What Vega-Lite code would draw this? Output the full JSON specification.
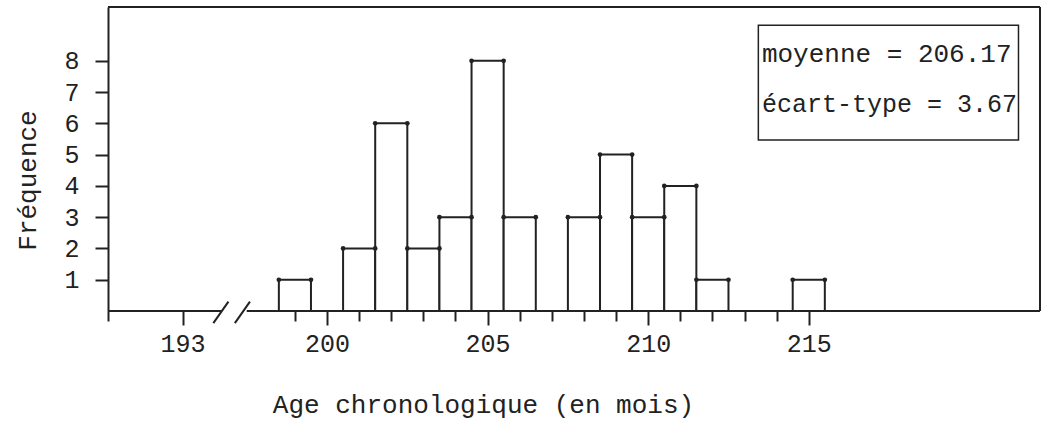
{
  "$schema": "https://vega.github.io/schema/vega-lite/v6.json",
  "autosize": "none",
  "padding": {"left": 108, "top": 7, "right": 4, "bottom": 114},
  "width": 932,
  "height": 304,
  "background": "white",
  "config": {
    "font": "Liberation Mono",
    "view": {"stroke": null}
  },
  "resolve": {"axis": {"x": "independent", "y": "independent"}},
  "data": {
    "values": [
      {"age": 199, "lo": 198.5, "hi": 199.5, "freq": 1},
      {"age": 201, "lo": 200.5, "hi": 201.5, "freq": 2},
      {"age": 202, "lo": 201.5, "hi": 202.5, "freq": 6},
      {"age": 203, "lo": 202.5, "hi": 203.5, "freq": 2},
      {"age": 204, "lo": 203.5, "hi": 204.5, "freq": 3},
      {"age": 205, "lo": 204.5, "hi": 205.5, "freq": 8},
      {"age": 206, "lo": 205.5, "hi": 206.5, "freq": 3},
      {"age": 208, "lo": 207.5, "hi": 208.5, "freq": 3},
      {"age": 209, "lo": 208.5, "hi": 209.5, "freq": 5},
      {"age": 210, "lo": 209.5, "hi": 210.5, "freq": 3},
      {"age": 211, "lo": 210.5, "hi": 211.5, "freq": 4},
      {"age": 212, "lo": 211.5, "hi": 212.5, "freq": 1},
      {"age": 215, "lo": 214.5, "hi": 215.5, "freq": 1}
    ]
  },
  "layer": [
    {
      "mark": {"type": "rect", "fill": "white", "stroke": "#222", "strokeWidth": 2},
      "encoding": {
        "x": {
          "field": "lo", "type": "quantitative",
          "scale": {"domain": [193.18, 222.2], "nice": false, "zero": false},
          "axis": {
            "values": [193.18, 195.5, 199, 200, 201, 202, 203, 204, 205, 206, 207, 208, 209, 210, 211, 212, 213, 214, 215],
            "labelExpr": "datum.value == 195.5 ? '193' : (datum.value % 5 == 0 ? datum.label : '')",
            "domain": false, "grid": false,
            "tickColor": "#222", "tickWidth": 2,
            "tickSize": {"condition": {"test": "datum.value % 5 == 0 || datum.value == 195.5", "value": 14}, "value": 10},
            "labelFontSize": 25, "labelColor": "#222", "labelPadding": 6,
            "labelOverlap": false, "labelFlush": false,
            "title": "Age chronologique (en mois)",
            "titleFontSize": 26, "titleFontWeight": "normal", "titleColor": "#222",
            "titleX": 375, "titleY": 101, "titleAlign": "center", "titleBaseline": "alphabetic"
          }
        },
        "x2": {"field": "hi"},
        "y": {
          "field": "freq", "type": "quantitative",
          "scale": {"domain": [0, 9.72], "nice": false},
          "axis": {
            "values": [1, 2, 3, 4, 5, 6, 7, 8],
            "domain": true, "domainColor": "#222", "domainWidth": 2,
            "grid": false, "tickColor": "#222", "tickWidth": 2, "tickSize": 13,
            "labelFontSize": 25, "labelColor": "#222", "labelPadding": 16,
            "title": "Fréquence",
            "titleFontSize": 26, "titleFontWeight": "normal", "titleColor": "#222",
            "titleX": -81, "titleY": 173, "titleAngle": -90,
            "titleAlign": "center", "titleBaseline": "middle"
          }
        },
        "y2": {"datum": 0}
      }
    },
    {
      "mark": {"type": "point", "filled": true, "size": 22, "color": "#222", "opacity": 1},
      "encoding": {
        "x": {"field": "lo", "type": "quantitative", "axis": null},
        "y": {"field": "freq", "type": "quantitative", "axis": null}
      }
    },
    {
      "mark": {"type": "point", "filled": true, "size": 22, "color": "#222", "opacity": 1},
      "encoding": {
        "x": {"field": "hi", "type": "quantitative", "axis": null},
        "y": {"field": "freq", "type": "quantitative", "axis": null}
      }
    },
    {
      "data": {"values": [{}]},
      "layer": [
        {
          "mark": {"type": "rule", "color": "#222", "strokeWidth": 2},
          "encoding": {"y": {"datum": 9.72, "axis": null}}
        },
        {
          "mark": {"type": "rule", "color": "#222", "strokeWidth": 2},
          "encoding": {"x": {"datum": 222.2, "axis": null}}
        },
        {
          "mark": {"type": "rule", "color": "#222", "strokeWidth": 2},
          "encoding": {"x": {"datum": 193.18, "axis": null}, "x2": {"datum": 196.72}, "y": {"datum": 0, "axis": null}}
        },
        {
          "mark": {"type": "rule", "color": "#222", "strokeWidth": 2},
          "encoding": {"x": {"datum": 197.5, "axis": null}, "x2": {"datum": 222.2}, "y": {"datum": 0, "axis": null}}
        },
        {
          "mark": {"type": "rule", "color": "#222", "strokeWidth": 2},
          "encoding": {"x": {"datum": 196.46, "axis": null}, "x2": {"datum": 196.93}, "y": {"datum": -0.39, "axis": null}, "y2": {"datum": 0.3}}
        },
        {
          "mark": {"type": "rule", "color": "#222", "strokeWidth": 2},
          "encoding": {"x": {"datum": 197.13, "axis": null}, "x2": {"datum": 197.6}, "y": {"datum": -0.39, "axis": null}, "y2": {"datum": 0.3}}
        },
        {
          "mark": {"type": "rect", "fill": "white", "stroke": "#222", "strokeWidth": 1.5},
          "encoding": {"x": {"datum": 213.43, "axis": null}, "x2": {"datum": 221.53}, "y": {"datum": 9.14, "axis": null}, "y2": {"datum": 5.47}}
        },
        {
          "mark": {"type": "text", "text": "moyenne = 206.17", "align": "left", "baseline": "alphabetic", "fontSize": 26, "fill": "#222", "fontWeight": "normal"},
          "encoding": {"x": {"datum": 213.54, "axis": null}, "y": {"datum": 7.96, "axis": null}}
        },
        {
          "mark": {"type": "text", "text": "écart-type = 3.67", "align": "left", "baseline": "alphabetic", "fontSize": 25, "fill": "#222", "fontWeight": "normal"},
          "encoding": {"x": {"datum": 213.54, "axis": null}, "y": {"datum": 6.37, "axis": null}}
        }
      ]
    }
  ]
}
